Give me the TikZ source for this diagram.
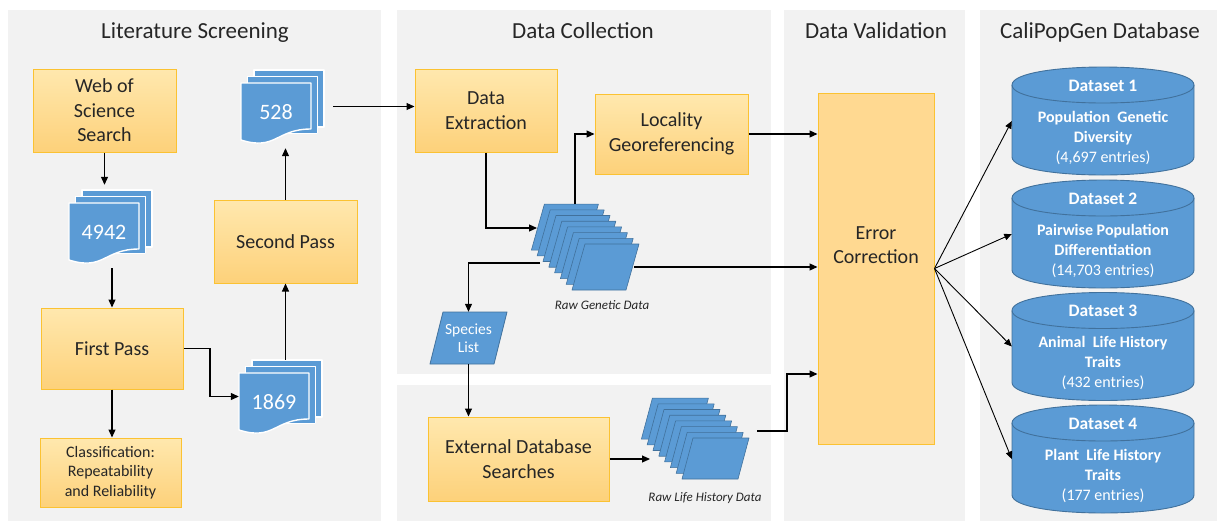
\documentclass[tikz,border=0pt]{standalone}
\usepackage{fontspec}
\setmainfont{Carlito}
\usetikzlibrary{arrows.meta,calc}

\definecolor{panel}{HTML}{F2F2F2}
\definecolor{boxtop}{HTML}{FFE8AE}
\definecolor{boxbot}{HTML}{FDD17A}
\definecolor{boxedge}{HTML}{FBC232}
\definecolor{errfill}{HTML}{FFD991}
\definecolor{dblue}{HTML}{5B9BD5}
\definecolor{dedge}{HTML}{41719C}
\definecolor{ink}{HTML}{262626}

\tikzset{
  panelbox/.style={fill=panel, draw=none},
  title/.style={font=\fontsize{23}{28}\selectfont, anchor=base, text=ink},
  ybox/.style={draw=boxedge, line width=1pt, top color=boxtop, bottom color=boxbot,
    align=center, inner sep=0pt, font=\fontsize{20}{24.5}\selectfont, text=ink},
  errbox/.style={draw=boxedge, line width=1pt, fill=errfill, inner sep=0pt},
  docpage/.style={fill=dblue, draw=white, line width=1.4pt, line join=round},
  doclabel/.style={text=white, font=\fontsize{22}{26}\selectfont, inner sep=0pt},
  para/.style={fill=dblue, draw=dedge, line width=0.6pt, line join=round},
  cyl/.style={fill=dblue, draw=dedge, line width=0.9pt},
  cyltitle/.style={text=white, font=\bfseries\fontsize{17.5}{21}\selectfont, inner sep=0pt},
  cylbody/.style={text=white, align=center, font=\bfseries\fontsize{16}{20}\selectfont, inner sep=0pt},
  hold/.style={inner sep=0pt, draw=none},
  caption/.style={font=\itshape\fontsize{13}{16}\selectfont, text=ink, inner sep=0pt},
  arr/.style={line width=1.1pt, draw=black, -{Triangle[length=8pt,width=7pt]}},
  arrthin/.style={line width=0.9pt, draw=black, -{Triangle[length=7.5pt,width=6.5pt]}},
}

% stack of three pages with a wavy bottom on the front one
\newcommand\docstack[4]{% name, x0, y0 (front page top-left), label
  \foreach \k in {2,1} {
    \filldraw[docpage] ({#2+6.5*\k},{#3-6.5*\k}) rectangle ({#2+6.5*\k+70},{#3-6.5*\k+57});
  }
  \filldraw[docpage] (#2,#3) -- ({#2+70},#3) -- ({#2+70},{#3+46})
    .. controls ({#2+35},{#3+46}) and ({#2+35},{#3+68}) .. (#2,{#3+57}) -- cycle;
  \node[hold, minimum width=83pt, minimum height=73pt] (#1) at ({#2+41.5},{#3+23.5}) {};
  \node[doclabel] (#1-t) at ({#2+35},{#3+29}) {#4};
}

% stack of eight slanted data sheets
\newcommand\parastack[5]{% x, y (front top-left), width, height, slant
  \foreach \k in {7,6,...,0} {
    \filldraw[para] ({#1-5.8*\k},{#2-5.7*\k}) -- ++(#3,0) -- ++(-#5,#4) -- ++(-#3,0) -- cycle;
  }
}

% database cylinder
\newcommand\dbcyl[2]{% name, top y
  \filldraw[cyl] (1012,{#2+18}) -- (1012,{#2+90})
    .. controls (1012,{#2+114}) and (1194,{#2+114}) .. (1194,{#2+90})
    -- (1194,{#2+18})
    .. controls (1194,{#2-6}) and (1012,{#2-6}) .. (1012,{#2+18}) -- cycle;
  \draw[cyl, fill=none] (1012,{#2+18}) .. controls (1012,{#2+42}) and (1194,{#2+42}) .. (1194,{#2+18});
  \node[hold, minimum width=182pt, minimum height=108pt] (#1) at (1103,{#2+54}) {};
}

\begin{document}
\begin{tikzpicture}[x=1pt, y=-1pt]
\useasboundingbox (0,0) rectangle (1219,523);
\fill[white] (0,0) rectangle (1219,523);

% section backgrounds
\fill[panelbox] (8,10) rectangle (381,521);
\fill[panelbox] (397,10) rectangle (771,374);
\fill[panelbox] (397,385) rectangle (771,521);
\fill[panelbox] (784,10) rectangle (965,521);
\fill[panelbox] (980,10) rectangle (1217,521);

% section titles
\node[title] (t-lit) at (195,38.5) {Literature Screening};
\node[title] (t-col) at (583,38.5) {Data Collection};
\node[title] (t-val) at (876,38.5) {Data Validation};
\node[title] (t-db)  at (1100,38.5) {CaliPopGen Database};

% literature screening
\node[ybox, minimum width=143pt, minimum height=83pt] (web) at (104.5,110.5) {Web of\\Science\\Search};
\node[ybox, minimum width=143pt, minimum height=83pt] (second) at (285.5,241.5) {Second Pass};
\node[ybox, minimum width=142pt, minimum height=81pt] (first) at (112,348.5) {First Pass};
\node[ybox, minimum width=141pt, minimum height=69pt,
      font=\fontsize{16}{19.5}\selectfont] (classif) at (110.5,472.5) {Classification:\\Repeatability\\and Reliability};

\docstack{d528}{241}{83}{528}
\docstack{d4942}{69}{203}{4942}
\docstack{d1869}{239}{373}{1869}

% data collection
\node[ybox, minimum width=142pt, minimum height=83pt] (extract) at (486,110.5) {Data\\Extraction};
\node[ybox, minimum width=153pt, minimum height=80pt] (locality) at (671.5,134) {Locality\\Georeferencing};
\node[ybox, minimum width=181pt, minimum height=84pt] (external) at (518.5,459) {External Database\\Searches};

\parastack{585}{244}{54}{46}{13}
\node[hold, minimum width=108pt, minimum height=86pt] (rawgen) at (585,247) {};
\node[caption] (rawgen-t) at (602,305) {Raw Genetic Data};

\parastack{693}{438}{56}{41}{11}
\node[hold, minimum width=108pt, minimum height=81pt] (rawlife) at (695,438.5) {};
\node[caption] (rawlife-t) at (705,498) {Raw Life History Data};

\filldraw[para, line width=0.8pt] (443,312) -- (507,312) -- (494,364) -- (430,364) -- cycle;
\node[hold, minimum width=77pt, minimum height=52pt, align=center, text=white,
      font=\fontsize{15.5}{18}\selectfont] (species) at (468.5,338) {Species\\List};

% data validation
\node[errbox, minimum width=116pt, minimum height=351pt] (error) at (876,268.5) {};
\node[align=center, inner sep=0pt, text=ink, font=\fontsize{20}{24.5}\selectfont] (error-t) at (876,245) {Error\\Correction};

% database
\dbcyl{ds1}{67}
\dbcyl{ds2}{180}
\dbcyl{ds3}{292.5}
\dbcyl{ds4}{405}
\node[cyltitle] (ds1-t) at (1103,85.5) {Dataset 1};
\node[cylbody] (ds1-b) at (1103,137.5) {Population\ \ Genetic\\Diversity\\\mdseries(4,697 entries)};
\node[cyltitle] (ds2-t) at (1103,198.5) {Dataset 2};
\node[cylbody] (ds2-b) at (1103,250.5) {Pairwise Population\\Differentiation\\\mdseries(14,703 entries)};
\node[cyltitle] (ds3-t) at (1103,311) {Dataset 3};
\node[cylbody] (ds3-b) at (1103,363) {Animal\ \ Life History\\Traits\\\mdseries(432 entries)};
\node[cyltitle] (ds4-t) at (1103,423.5) {Dataset 4};
\node[cylbody] (ds4-b) at (1103,475.5) {Plant\ \ Life History\\Traits\\\mdseries(177 entries)};

% connector ports on the sheet stacks
\coordinate (rg-in) at (537,228);
\coordinate (rg-top) at (575,204);
\coordinate (rg-left) at (540,263);
\coordinate (rg-right) at (634,267);
\coordinate (rl-in) at (650,459);
\coordinate (rl-out) at (757,431);
\coordinate (rl-bend) at (787,431);
\coordinate (rl-join) at (787,374);
\coordinate (fp-bend) at (210,348.5);

% connectors
\draw[arr, shorten >=5pt] (web.south) -- (web.south |- d4942.north);
\draw[arr, shorten <=5pt] (first.north |- d4942.south) -- (first.north);
\draw[arr] (first.south) -- (first.south |- classif.north);
\draw[arr] (first.east) -- (fp-bend) |- (d1869.west);
\draw[arr] (second.south |- d1869.north) -- (second.south);
\draw[arr, shorten >=5pt] (second.north) -- (second.north |- d528.south);
\draw[arr, shorten <=9pt] (d528.east) -- (d528.east -| extract.west);
\draw[arr] (extract.south) |- (rg-in);
\draw[arr] (rg-top) |- (locality.west);
\draw[arr] (rg-left) -| (species.north);
\draw[arr] (species.south) -- (species.south |- external.north);
\draw[arr] (external.east) -- (rl-in);
\draw[arr] (rg-right) -- (rg-right -| error.west);
\draw[arr] (locality.east) -- (locality.east -| error.west);
\draw[arr] (rl-out) -- (rl-bend) -- (rl-join) -- (rl-join -| error.west);
\foreach \d in {ds1,ds2,ds3,ds4} {
  \draw[arrthin] (error.east) -- (\d.west);
}
\end{tikzpicture}
\end{document}
